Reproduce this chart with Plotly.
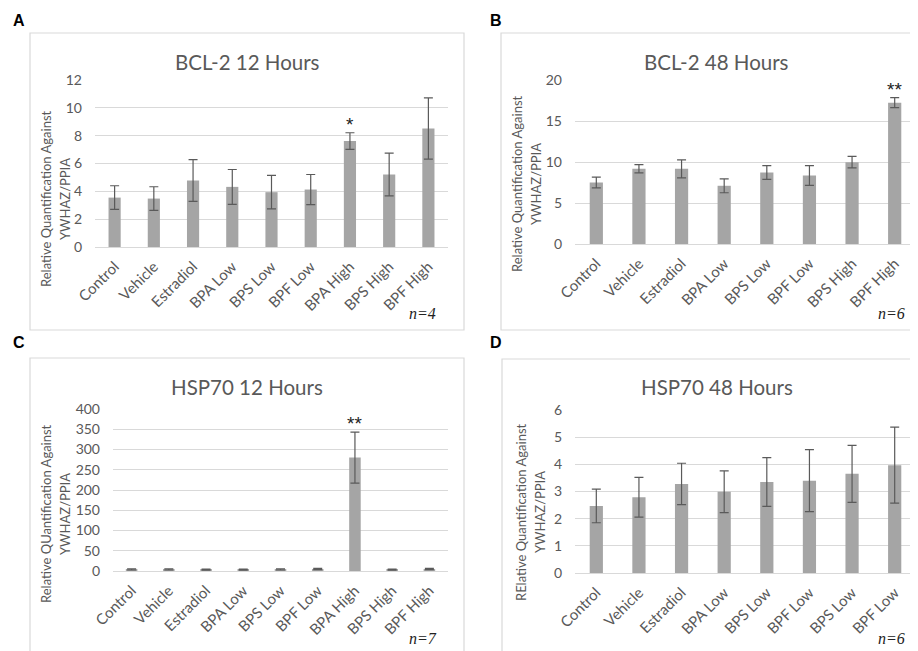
import plotly.graph_objects as go

# page has an 8px body margin, so the figure is drawn 8px in from the corner
OFF = 8
W, H = 918 - OFF, 651 - OFF

# ---------------- data ----------------
cats_a = ["Control", "Vehicle", "Estradiol", "BPA Low", "BPS Low", "BPF Low", "BPA High", "BPS High", "BPF High"]
bcl2_12h = [3.55, 3.48, 4.78, 4.32, 3.94, 4.13, 7.61, 5.21, 8.52]
bcl2_12h_err = [0.85, 0.85, 1.5, 1.25, 1.2, 1.08, 0.6, 1.53, 2.2]

cats_b = ["Control", "Vehicle", "Estradiol", "BPA Low", "BPS Low", "BPF Low", "BPS High", "BPF High"]
bcl2_48h = [7.5, 9.17, 9.17, 7.1, 8.72, 8.36, 9.98, 17.24]
bcl2_48h_err = [0.65, 0.5, 1.1, 0.85, 0.85, 1.2, 0.7, 0.6]

cats_c = ["Control", "Vehicle", "Estradiol", "BPA Low", "BPS Low", "BPF Low", "BPA High", "BPS High", "BPF High"]
hsp70_12h = [4, 4, 3.5, 3.5, 4, 5, 280, 3.5, 5]
hsp70_12h_err = [1.5, 1.5, 1.5, 1.5, 1.5, 1.5, 63, 1.5, 1.5]

cats_d = ["Control", "Vehicle", "Estradiol", "BPA Low", "BPS Low", "BPF Low", "BPS Low", "BPF Low"]
hsp70_48h = [2.47, 2.79, 3.28, 2.99, 3.35, 3.40, 3.65, 3.97]
hsp70_48h_err = [0.62, 0.73, 0.76, 0.77, 0.9, 1.14, 1.05, 1.4]

titles = ["BCL-2 12 Hours", "BCL-2 48 Hours", "HSP70 12 Hours", "HSP70 48 Hours"]
ytitle1 = ["Relative Quantification Against", "Relative Quantification Against",
           "Relative QUantification Against", "RElative Quantification Against"]
ytitle2 = "YWHAZ/PPIA"
n_labels = ["n=4", "n=6", "n=7", "n=6"]
panel_letters = ["A", "B", "C", "D"]
sig = [(6, "*"), (7, "**"), (6, "**"), None]

# ---------------- layout geometry (page pixels) ----------------
panels = [
    dict(cats=cats_a, y=bcl2_12h, e=bcl2_12h_err, x0=95, x1=448, top=80, bot=247, rng=12, dt=2,
         box=(30, 464, 33, 330), letter=(19, 21), title=(247, 62), yt=(46, 65, 199), n=(422, 313)),
    dict(cats=cats_b, y=bcl2_48h, e=bcl2_48h_err, x0=575, x1=916, top=80, bot=244, rng=20, dt=5,
         box=(501, 930, 33, 330), letter=(496, 21), title=(716, 62), yt=(517, 536, 184), n=(891, 313)),
    dict(cats=cats_c, y=hsp70_12h, e=hsp70_12h_err, x0=113, x1=448, top=409, bot=571, rng=400, dt=50,
         box=(30, 464, 358, 670), letter=(19, 342), title=(247, 387), yt=(46, 65, 514), n=(423, 638)),
    dict(cats=cats_d, y=hsp70_48h, e=hsp70_48h_err, x0=575, x1=916, top=410, bot=573, rng=6, dt=1,
         box=(502, 930, 359, 670), letter=(496, 342), title=(717, 387), yt=(521, 540, 512), n=(891, 638)),
]

GRAY_TXT = "#595959"
GRID = "#d9d9d9"
BAR = "#a5a5a5"
FONT = "Lato"

fig = go.Figure()
shapes = []
annotations = []

def px(x):
    return (x - OFF) / W

def py(y):
    return 1 - (y - OFF) / H

def ann(text, x, y, font, **kw):
    d = dict(text=text, xref="paper", yref="paper", x=px(x), y=py(y), showarrow=False,
             xanchor="center", yanchor="middle", font=font)
    d.update(kw)
    annotations.append(d)

for i, p in enumerate(panels):
    k = "" if i == 0 else str(i + 1)
    xs = list(range(len(p["cats"])))
    fig.add_trace(go.Bar(
        x=xs, y=p["y"], width=0.31, marker=dict(color=BAR, line=dict(width=0)),
        error_y=dict(type="data", array=p["e"], visible=True, color="#5a5a5a", thickness=1.2, width=4.5),
        xaxis="x" + k, yaxis="y" + k, showlegend=False, hoverinfo="skip",
    ))
    fig.layout["xaxis" + k] = dict(
        domain=[px(p["x0"]), px(p["x1"])], anchor="y" + k, automargin=False,
        range=[-0.5, len(xs) - 0.5], tickvals=xs, ticktext=p["cats"], tickangle=-45,
        showgrid=False, zeroline=False, showline=False, ticks="",
        ticklabelstandoff=7,
        tickfont=dict(family=FONT, size=15, color=GRAY_TXT),
    )
    fig.layout["yaxis" + k] = dict(
        domain=[py(p["bot"]), py(p["top"])], anchor="x" + k, automargin=False,
        range=[0, p["rng"]], dtick=p["dt"], showgrid=True, gridcolor=GRID, gridwidth=1,
        zeroline=True, zerolinecolor=GRID, zerolinewidth=1, showline=False, ticks="",
        ticklabelstandoff=12,
        tickfont=dict(family=FONT, size=14, color=GRAY_TXT),
    )
    bx0, bx1, by0, by1 = p["box"]
    shapes.append(dict(type="rect", xref="paper", yref="paper", x0=px(bx0), x1=px(bx1),
                       y0=py(by1), y1=py(by0), line=dict(color=GRID, width=1.2), layer="below"))
    ann("<b>%s</b>" % panel_letters[i], p["letter"][0], p["letter"][1],
        dict(family="Liberation Sans", size=16, color="black"))
    ann(titles[i], p["title"][0], p["title"][1], dict(family=FONT, size=20.5, color=GRAY_TXT))
    ann(ytitle1[i], p["yt"][0], p["yt"][2], dict(family=FONT, size=13, color=GRAY_TXT), textangle=-90)
    ann(ytitle2, p["yt"][1], p["yt"][2], dict(family=FONT, size=13, color=GRAY_TXT), textangle=-90)
    ann("<i>%s</i>" % n_labels[i], p["n"][0], p["n"][1],
        dict(family="Liberation Serif", size=16, color="#222222"))
    if sig[i] is not None:
        idx, s = sig[i]
        annotations.append(dict(text=s, xref="x" + k, yref="y" + k, x=idx,
                                y=p["y"][idx] + p["e"][idx], xanchor="center", yanchor="bottom",
                                yshift=-4, showarrow=False,
                                font=dict(family="Liberation Sans", size=19, color="#222222")))

fig.update_layout(
    width=W, height=H, margin=dict(l=0, r=0, t=0, b=0, autoexpand=False),
    paper_bgcolor="white", plot_bgcolor="white",
    shapes=shapes, annotations=annotations, bargap=0.69,
)

fig.write_html("out.html")
